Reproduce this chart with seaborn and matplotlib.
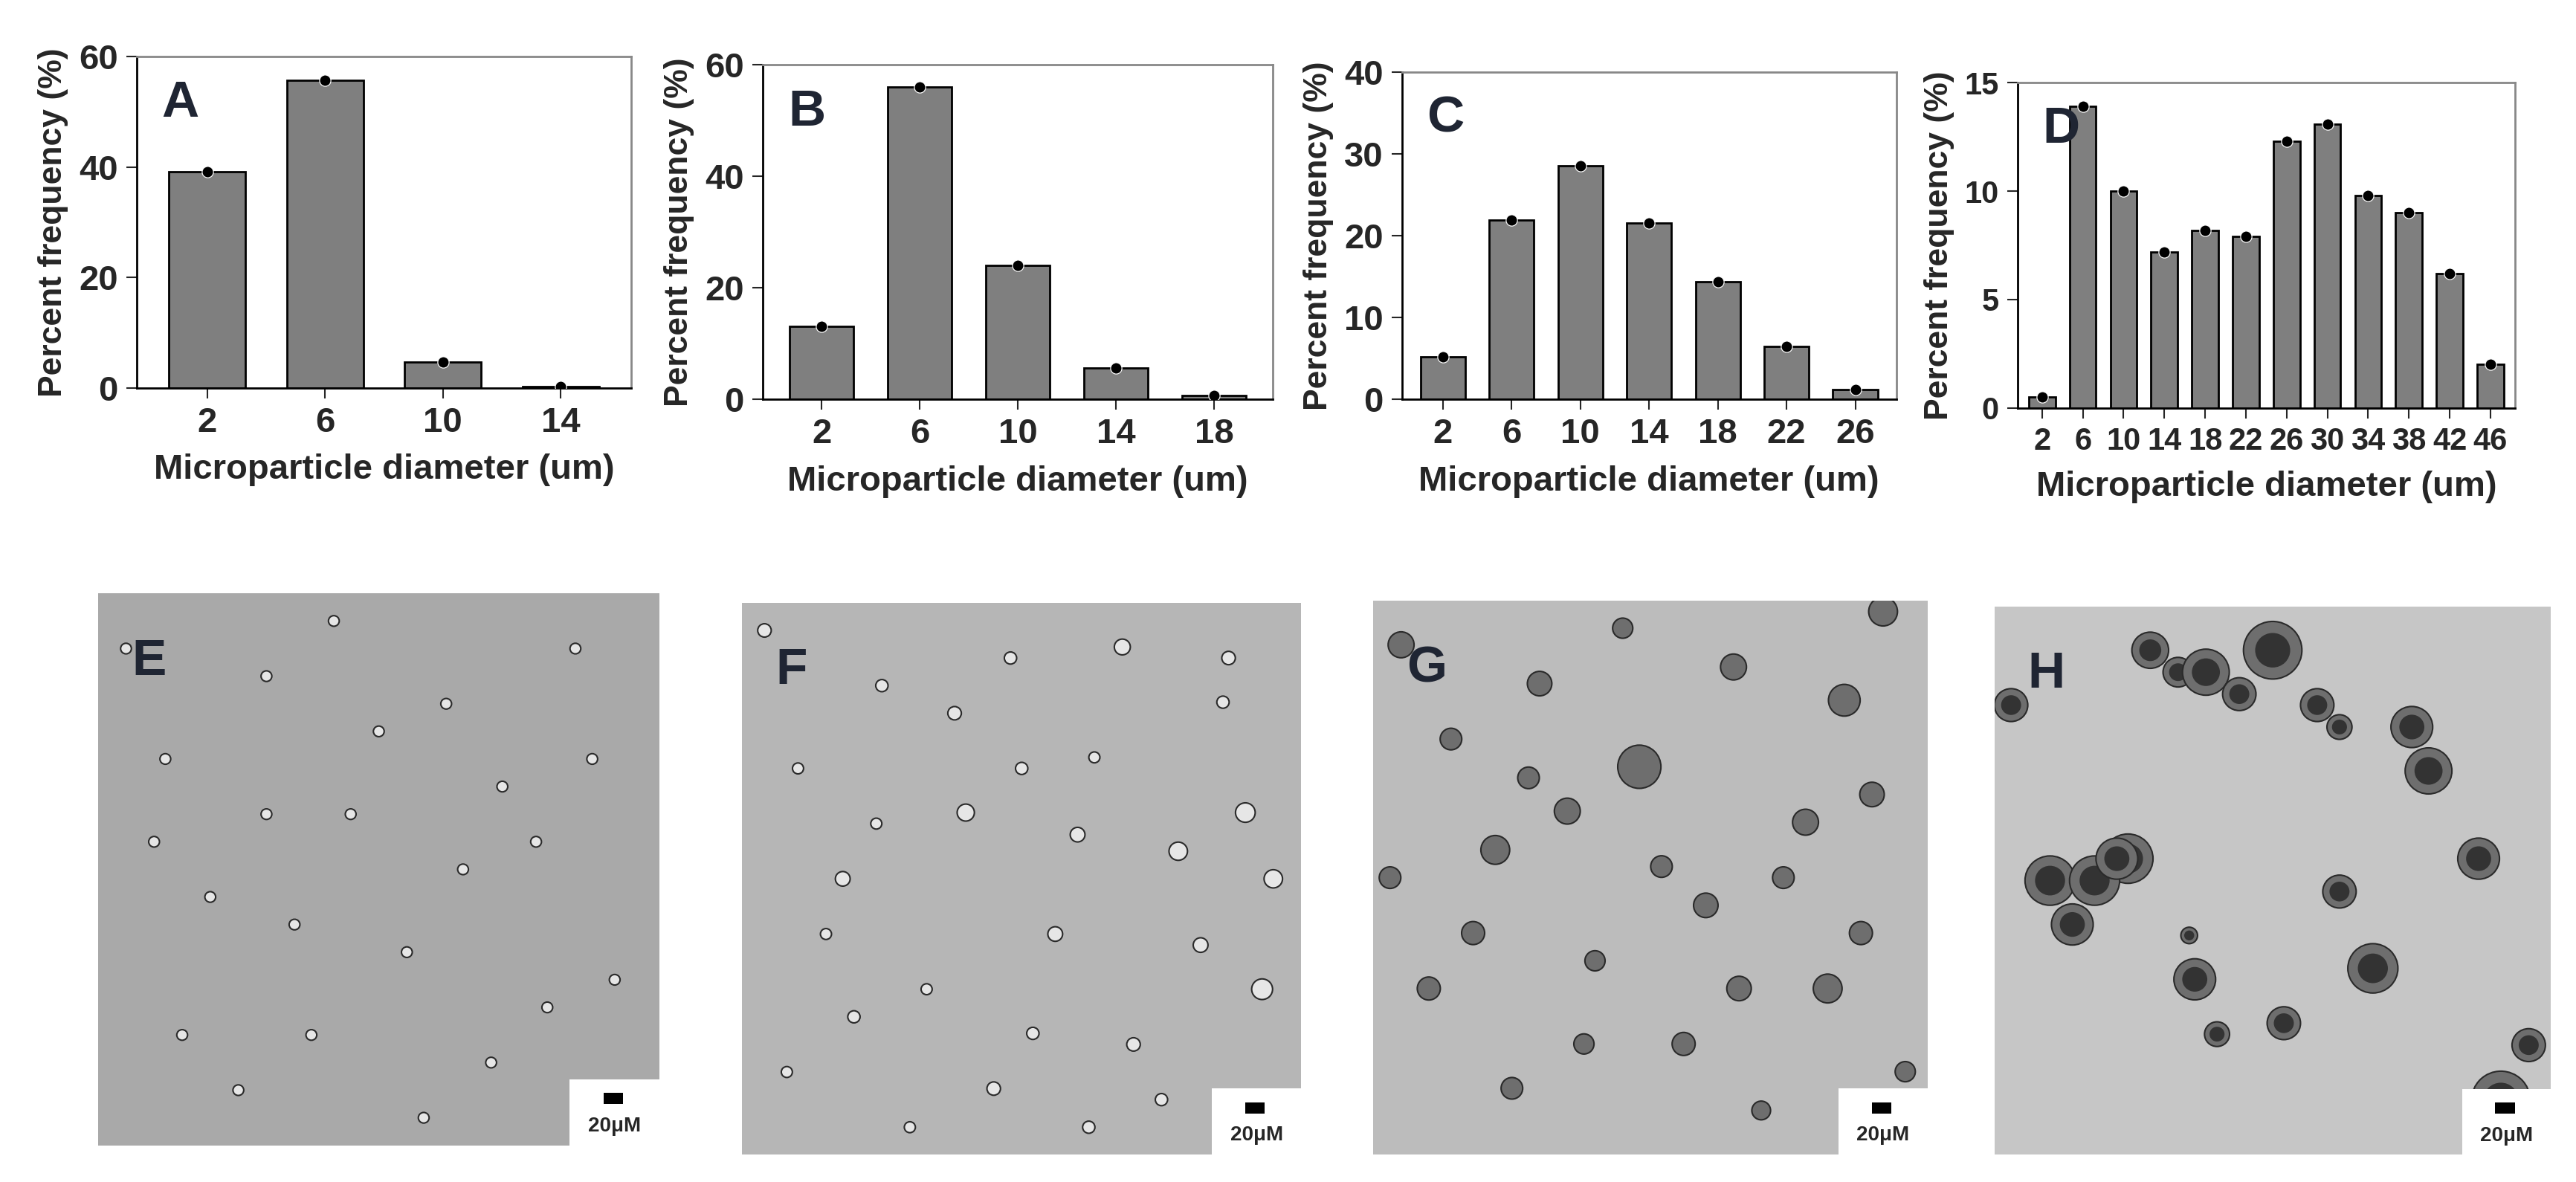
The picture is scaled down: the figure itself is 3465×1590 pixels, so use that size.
import numpy as np
import pandas as pd
import matplotlib
matplotlib.use("Agg")
import matplotlib.pyplot as plt
from matplotlib.patches import Circle, Rectangle
import seaborn as sns

sns.set_style("white")
plt.rcParams['font.family'] = ['Liberation Sans Narrow', 'Liberation Sans', 'DejaVu Sans']

# histogram data
diam_a = ['2', '6', '10', '14']
freq_a = [39.2, 55.7, 4.6, 0.2]
diam_b = ['2', '6', '10', '14', '18']
freq_b = [13.1, 56.1, 24.0, 5.6, 0.7]
diam_c = ['2', '6', '10', '14', '18', '22', '26']
freq_c = [5.2, 21.9, 28.6, 21.6, 14.4, 6.5, 1.2]
diam_d = ['2', '6', '10', '14', '18', '22', '26', '30', '34', '38', '42', '46']
freq_d = [0.5, 13.9, 10.0, 7.2, 8.2, 7.9, 12.3, 13.1, 9.8, 9.0, 6.2, 2.0]

# micrograph stand-ins: particle x, y (fraction of panel), radius (fraction)
parts_e = ([.05, .12, .2, .3, .38, .45, .55, .62, .7, .78, .85, .92, .15, .35, .5, .65, .8, .25, .58, .88, .1, .42, .72, .3, .95],
           [.9, .7, .45, .85, .2, .6, .35, .8, .15, .55, .9, .3, .2, .4, .75, .5, .25, .1, .05, .7, .55, .95, .65, .6, .1],
           [.008] * 25)
parts_f = ([.04, .1, .18, .25, .33, .4, .48, .56, .63, .7, .78, .86, .93, .08, .2, .3, .45, .6, .75, .9, .15, .38, .52, .68, .82, .95, .5, .24, .87, .62],
           [.95, .7, .5, .85, .3, .62, .9, .4, .72, .2, .55, .82, .3, .15, .25, .05, .12, .58, .1, .62, .4, .8, .22, .92, .38, .5, .7, .6, .9, .05],
           [.011, .009, .012, .01, .009, .014, .01, .012, .009, .011, .015, .01, .017, .009, .01, .009, .011, .012, .01, .016, .009, .011, .01, .013, .012, .015, .01, .009, .011, .01])
parts_g = ([.05, .14, .22, .3, .4, .48, .56, .65, .74, .82, .9, .96, .1, .25, .35, .6, .7, .85, .18, .45, .52, .78, .92, .03, .38, .66, .88, .28],
           [.92, .75, .55, .85, .35, .7, .2, .88, .5, .3, .65, .15, .3, .12, .62, .45, .08, .82, .4, .95, .52, .6, .98, .5, .2, .3, .4, .68],
           [.018, .015, .02, .017, .014, .03, .016, .018, .015, .02, .017, .014, .016, .015, .018, .017, .013, .022, .016, .014, .015, .018, .02, .015, .014, .017, .016, .015])
parts_h = ([.28, .33, .38, .44, .5, .24, .1, .14, .18, .22, .36, .58, .62, .68, .75, .78, .87, .91, .96, .52, .4, .35, .62, .03],
           [.92, .88, .88, .84, .92, .54, .5, .42, .5, .54, .32, .82, .48, .34, .78, .7, .54, .1, .2, .24, .22, .4, .78, .82],
           [.022, .018, .028, .02, .035, .03, .03, .025, .03, .025, .025, .02, .02, .03, .025, .028, .025, .035, .02, .02, .015, .01, .015, .02])

bar_panels = [
    ('A', diam_a, freq_a, [0, 20, 40, 60], 60, [0.053, 0.672, 0.192, 0.280]),
    ('B', diam_b, freq_b, [0, 20, 40, 60], 60, [0.296, 0.662, 0.198, 0.283]),
    ('C', diam_c, freq_c, [0, 10, 20, 30, 40], 40, [0.544, 0.662, 0.192, 0.277]),
    ('D', diam_d, freq_d, [0, 5, 10, 15], 15, [0.783, 0.655, 0.193, 0.275]),
]

img_panels = [
    ('E', parts_e, '#a9a9a9', [0.038, 0.031, 0.218, 0.467], 1.2),
    ('F', parts_f, '#b6b6b6', [0.288, 0.023, 0.217, 0.467], 1.1),
    ('G', parts_g, '#bcbcbc', [0.533, 0.023, 0.215, 0.469], 1.3),
    ('H', parts_h, '#c6c6c6', [0.774, 0.023, 0.216, 0.464], 1.5),
]

fig = plt.figure(figsize=(34.66, 15.9), dpi=100)
letter_col = '#1f2533'

for lab, cats, vals, ticks, ymax, rect in bar_panels:
    ax = fig.add_axes(rect)
    df = pd.DataFrame({'diam': cats, 'freq': vals})
    sns.barplot(data=df, x='diam', y='freq', order=cats, color='#7f7f7f',
                edgecolor='black', linewidth=2, width=0.65, saturation=1, ax=ax)
    sns.scatterplot(data=df, x='diam', y='freq', color='black', s=120, zorder=5,
                    legend=False, ax=ax)
    ax.set_ylim(0, ymax)
    ax.set_yticks(ticks)
    ax.set_xlim(-0.6, len(cats) - 0.4)
    for s in ['top', 'right']:
        ax.spines[s].set_color('#888888')
        ax.spines[s].set_linewidth(2)
    for s in ['left', 'bottom']:
        ax.spines[s].set_color('black')
        ax.spines[s].set_linewidth(2)
    ax.tick_params(axis='both', length=10, width=1.5, labelsize=34 if lab != 'D' else 30,
                   left=True, bottom=True, pad=8)
    for t in ax.get_xticklabels() + ax.get_yticklabels():
        t.set_fontweight('bold')
    ax.set_xlabel('Microparticle diameter (um)', fontsize=34, fontweight='bold', labelpad=14)
    ax.set_ylabel('Percent frequency (%)', fontsize=32, fontweight='bold',
                  family=['Liberation Sans', 'DejaVu Sans'], labelpad=10)
    ax.text(0.05, 0.93, lab, transform=ax.transAxes, fontsize=50, fontweight='bold',
            color=letter_col, va='top', family=['Liberation Sans', 'DejaVu Sans'])

for lab, (xs, ys, rs), bg, rect, scale in img_panels:
    ax = fig.add_axes(rect)
    ax.set_xlim(0, 1)
    ax.set_ylim(0, 1)
    ax.set_facecolor(bg)
    dark = lab in ('G', 'H')
    for x, y, r in zip(xs, ys, rs):
        fill = '#6e6e6e' if dark else '#e6e6e6'
        ax.add_patch(Circle((x, y), r * scale, facecolor=fill, edgecolor='#2a2a2a', lw=1.5))
        if lab == 'H':
            ax.add_patch(Circle((x, y), r * 0.9, facecolor='#333333', edgecolor='none'))
    ax.set_xticks([])
    ax.set_yticks([])
    for s in ax.spines.values():
        s.set_visible(False)
    ax.add_patch(Rectangle((0.84, 0.0), 0.16, 0.12, facecolor='white', edgecolor='none'))
    ax.add_patch(Rectangle((0.9, 0.075), 0.035, 0.02, facecolor='black', edgecolor='none'))
    ax.text(0.92, 0.035, '20μM', ha='center', va='center', fontsize=20, fontweight='bold',
            family=['Liberation Sans', 'DejaVu Sans'])
    ax.text(0.06, 0.92, lab, transform=ax.transAxes, fontsize=50, fontweight='bold',
            color=letter_col, va='top', family=['Liberation Sans', 'DejaVu Sans'])

fig.savefig('out.png', dpi=100)
